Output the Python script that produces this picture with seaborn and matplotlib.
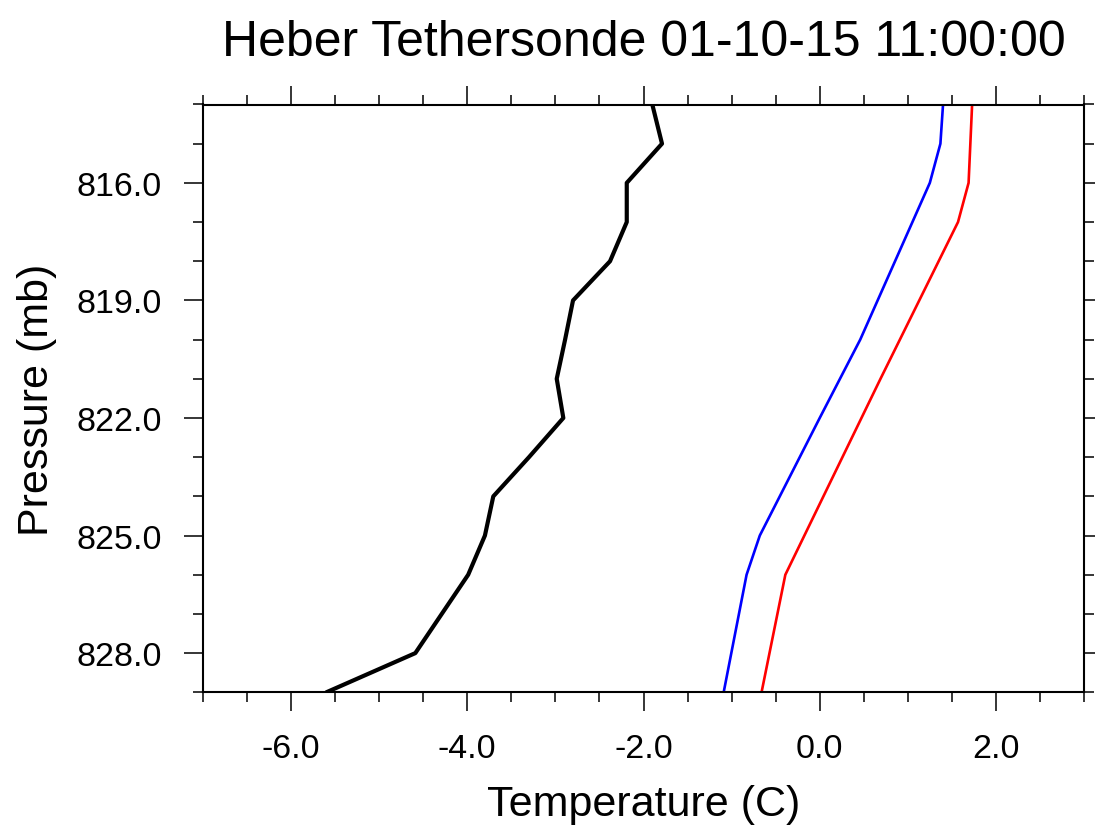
import numpy as np
import pandas as pd
import matplotlib
matplotlib.use("Agg")
import matplotlib.pyplot as plt
import seaborn as sns
from matplotlib.ticker import MultipleLocator, FormatStrFormatter

# ---- data ----
title = "Heber Tethersonde 01-10-15 11:00:00"

black_p = [814, 815, 816, 817, 818, 819, 820, 821, 822, 823, 824, 825, 826, 827, 828, 829]
black_t = [-1.90, -1.79, -2.19, -2.19, -2.38, -2.80, -2.89, -2.985, -2.91, -3.30,
           -3.705, -3.80, -3.99, -4.29, -4.59, -5.60]

blue_p = [814, 815, 816, 820, 822, 825, 826, 829]
blue_t = [1.40, 1.37, 1.25, 0.46, 0.00, -0.68, -0.83, -1.09]

red_p = [814, 815, 816, 817, 821, 826, 829]
red_t = [1.73, 1.71, 1.69, 1.57, 0.69, -0.39, -0.66]

x_ticks = [-6.0, -4.0, -2.0, 0.0, 2.0]
y_ticks = [816.0, 819.0, 822.0, 825.0, 828.0]

sns.set_theme(style="ticks")
plt.rcParams['font.family'] = ['Liberation Sans', 'DejaVu Sans']

fig = plt.figure(figsize=(10.95, 8.29), dpi=100)
ax = fig.add_axes([203/1095, 1-693.3/829, (1084-203)/1095, (693.3-105.5)/829])

df_black = pd.DataFrame({"T": black_t, "P": black_p})
df_blue = pd.DataFrame({"T": blue_t, "P": blue_p})
df_red = pd.DataFrame({"T": red_t, "P": red_p})

sns.lineplot(data=df_black, x="T", y="P", sort=False, estimator=None, color="black", lw=3.0, ax=ax)
sns.lineplot(data=df_blue, x="T", y="P", sort=False, estimator=None, color="blue", lw=1.9, ax=ax)
sns.lineplot(data=df_red, x="T", y="P", sort=False, estimator=None, color="red", lw=1.9, ax=ax)

ax.set_xlim(-7, 3)
ax.set_ylim(829, 814)

ax.set_xticks(x_ticks)
ax.set_yticks(y_ticks)
ax.xaxis.set_major_formatter(FormatStrFormatter("%.1f"))
ax.yaxis.set_major_formatter(FormatStrFormatter("%.1f"))
ax.xaxis.set_minor_locator(MultipleLocator(0.5))
ax.yaxis.set_minor_locator(MultipleLocator(1.0))

for side in ["top", "bottom", "left", "right"]:
    ax.spines[side].set_visible(True)
    ax.spines[side].set_linewidth(1.5)
    ax.spines[side].set_color("black")

ax.tick_params(which="both", direction="out", top=True, right=True, bottom=True, left=True,
               labeltop=False, labelright=False, color="black", width=1.1)
ax.tick_params(which="major", length=13.5, labelsize=24.5, labelcolor="black")
ax.tick_params(axis="x", which="major", pad=15.5)
ax.tick_params(axis="y", which="major", pad=16)
ax.tick_params(which="minor", length=7.5)

ax.set_xlabel("Temperature (C)", fontsize=31, labelpad=15, color="black")
ax.set_ylabel("Pressure (mb)", fontsize=31, labelpad=14, color="black")
ax.set_title(title, fontsize=36, y=1.0706, va="baseline", color="black")

fig.savefig("out.png", dpi=100)
